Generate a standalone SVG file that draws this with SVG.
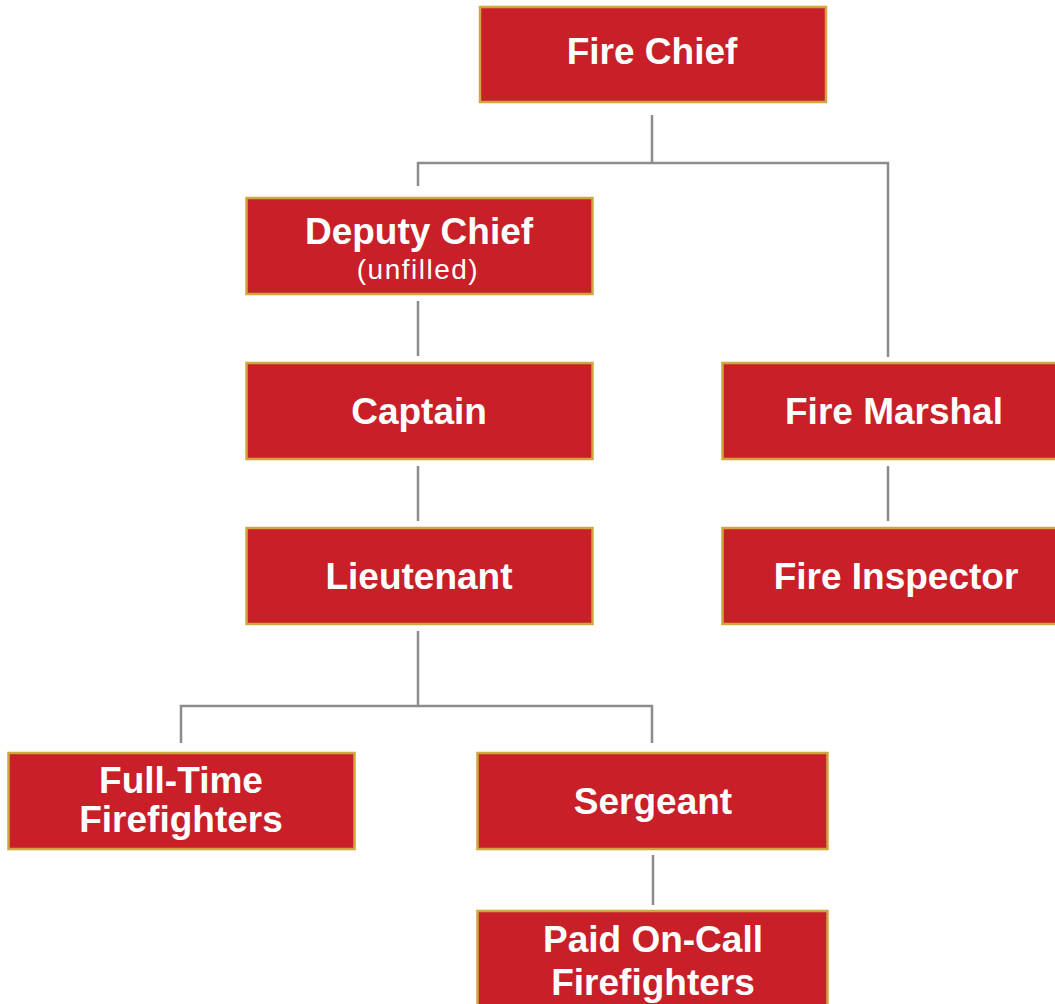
<svg xmlns="http://www.w3.org/2000/svg" width="1055" height="1004" viewBox="0 0 1055 1004">
<style>
.box{fill:#C81F28;stroke:#CFA63F;stroke-width:2.5}
.t{font-family:"Liberation Sans",Arial,sans-serif;font-weight:bold;font-size:37px;fill:#fff;text-anchor:middle}
.s{font-family:"Liberation Sans",Arial,sans-serif;font-size:28px;letter-spacing:1.5px;fill:#fff;text-anchor:middle}
.c{fill:none;stroke:#8C8C8C;stroke-width:2.5}
</style>
<rect width="1055" height="1004" fill="#fff"/>
<g id="connectors" class="c">
<path d="M652 115V163M418 186V163H888V357"/>
<path d="M418 301V356"/>
<path d="M418 466V521"/>
<path d="M888 466V521"/>
<path d="M418 631V706M181 743V706H652V743"/>
<path d="M653 855V905"/>
</g>
<g id="fire-chief"><rect class="box" x="480" y="7" width="346" height="95"/><text class="t" x="652" y="64">Fire Chief</text></g>
<g id="deputy-chief"><rect class="box" x="246.5" y="198" width="346" height="96"/><text class="t" x="419" y="244">Deputy Chief</text><text class="s" x="418" y="279">(unfilled)</text></g>
<g id="captain"><rect class="box" x="246.5" y="363" width="346" height="96"/><text class="t" x="419" y="424">Captain</text></g>
<g id="lieutenant"><rect class="box" x="246.5" y="528" width="346" height="96"/><text class="t" x="419" y="589">Lieutenant</text></g>
<g id="fire-marshal"><rect class="box" x="722.5" y="363" width="346" height="96"/><text class="t" x="894" y="424">Fire Marshal</text></g>
<g id="fire-inspector"><rect class="box" x="722.5" y="528" width="346" height="96"/><text class="t" x="896" y="589">Fire Inspector</text></g>
<g id="full-time-firefighters"><rect class="box" x="8.5" y="753" width="346" height="96"/><text class="t" x="181" y="793">Full-Time</text><text class="t" x="181" y="832">Firefighters</text></g>
<g id="sergeant"><rect class="box" x="477.5" y="753" width="350" height="96"/><text class="t" x="653" y="814">Sergeant</text></g>
<g id="paid-on-call-firefighters"><rect class="box" x="477.5" y="911" width="350" height="100"/><text class="t" x="653" y="952">Paid On-Call</text><text class="t" x="653" y="995">Firefighters</text></g>
</svg>
